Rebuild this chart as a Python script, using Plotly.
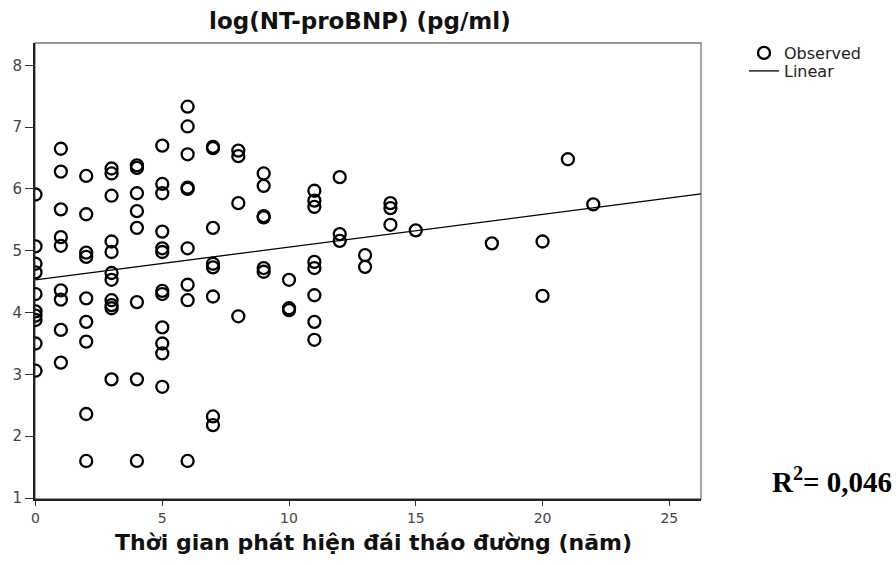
import plotly.graph_objects as go

# Observed data: years since diabetes detection (x) vs log(NT-proBNP) (y)
obs_x = (
    [0] * 10 + [1] * 9 + [2] * 9 + [3] * 11 + [4] * 8 + [5] * 12 + [6] * 9 + [7] * 8
    + [8] * 4 + [9] * 6 + [10] * 3 + [11] * 8 + [12] * 3 + [13] * 2 + [14] * 3
    + [15] + [18] + [20] * 2 + [21] + [22]
)
obs_y = [
    5.91, 5.07, 4.79, 4.65, 4.30, 4.02, 3.95, 3.88, 3.50, 3.06,          # 0
    6.65, 6.28, 5.67, 5.22, 5.08, 4.36, 4.21, 3.72, 3.19,                # 1
    6.21, 5.59, 4.97, 4.90, 4.23, 3.85, 3.53, 2.36, 1.60,                # 2
    6.33, 6.25, 5.89, 5.15, 4.98, 4.64, 4.53, 4.20, 4.12, 4.07, 2.92,    # 3
    6.38, 6.34, 5.93, 5.64, 5.37, 4.17, 2.92, 1.60,                      # 4
    6.70, 6.08, 5.93, 5.31, 5.04, 4.98, 4.35, 4.30, 3.76, 3.50, 3.34, 2.80,  # 5
    7.33, 7.01, 6.56, 6.02, 6.00, 5.04, 4.45, 4.20, 1.60,                # 6
    6.68, 6.66, 5.37, 4.79, 4.73, 4.26, 2.32, 2.18,                      # 7
    6.62, 6.53, 5.77, 3.94,                                              # 8
    6.25, 6.05, 5.56, 5.54, 4.72, 4.66,                                  # 9
    4.53, 4.07, 4.04,                                                    # 10
    5.97, 5.81, 5.71, 4.82, 4.72, 4.28, 3.85, 3.56,                      # 11
    6.19, 5.27, 5.16,                                                    # 12
    4.93, 4.74,                                                          # 13
    5.77, 5.69, 5.42,                                                    # 14
    5.33,                                                                # 15
    5.12,                                                                # 18
    5.15, 4.27,                                                          # 20
    6.48,                                                                # 21
    5.75,                                                                # 22
]

# Linear fit line
fit_x = [0, 26.25]
fit_y = [4.53, 5.92]

x_ticks = [0, 5, 10, 15, 20, 25]
y_ticks = [1, 2, 3, 4, 5, 6, 7, 8]

title_text = "log(NT-proBNP) (pg/ml)"
x_title = "Thời gian phát hiện đái tháo đường (năm)"
r2_text = "R<sup>2</sup>= 0,046"

fig = go.Figure()
fig.add_trace(go.Scatter(
    x=obs_x, y=obs_y, mode="markers", name="Observed", legend="legend",
    marker=dict(symbol="circle-open", size=12, color="black",
                line=dict(width=2.3, color="black")),
))
fig.add_trace(go.Scatter(
    x=fit_x, y=fit_y, mode="lines", name="Linear", legend="legend2",
    line=dict(color="black", width=1.3),
))

L, R, T, B = 35, 701, 43, 499
W, H = 896, 565
pw, ph = R - L, B - T

leg_common = dict(xanchor="left", yanchor="top",
                  font=dict(family="DejaVu Sans", size=16, color="#222"),
                  bgcolor="rgba(0,0,0,0)", itemwidth=30)

fig.update_layout(
    width=W, height=H,
    margin=dict(l=L, r=W - R, t=T, b=H - B, pad=0),
    paper_bgcolor="white", plot_bgcolor="white",
    showlegend=True,
    legend=dict(x=(744 - L) / pw, y=1 - (36 - T) / ph, **leg_common),
    legend2=dict(x=(744 - L) / pw, y=1 - (54 - T) / ph, **leg_common),
    font=dict(family="DejaVu Sans", color="#333"),
    shapes=[dict(type="rect", xref="paper", yref="paper", x0=0, x1=1, y0=0, y1=1,
                 line=dict(color="#777", width=1.3), layer="below")],
    annotations=[
        dict(text="<b>" + title_text + "</b>", xref="paper", yref="paper",
             x=(360 - L) / pw, y=1 + (T - 21) / ph, xanchor="center", yanchor="middle",
             showarrow=False, font=dict(family="DejaVu Sans", size=23, color="#111")),
        dict(text="<b>" + x_title + "</b>", xref="paper", yref="paper",
             x=(373 - L) / pw, y=-(542 - B) / ph, xanchor="center", yanchor="middle",
             showarrow=False, font=dict(family="DejaVu Sans", size=22, color="#111")),
        dict(text="<b>" + r2_text + "</b>", xref="paper", yref="paper",
             x=(894 - L) / pw, y=-(480 - B) / ph, xanchor="right", yanchor="middle",
             showarrow=False, font=dict(family="Liberation Serif", size=29, color="black")),
    ],
)

fig.update_xaxes(
    range=[-0.02, 26.25], tickvals=x_ticks, ticks="outside", ticklen=5, tickwidth=1.3,
    tickcolor="#333", showline=True, linecolor="#222", linewidth=2,
    showgrid=False, zeroline=False, tickfont=dict(family="DejaVu Sans", size=14, color="#444"),
)
fig.update_yaxes(
    range=[0.985, 8.36], tickvals=y_ticks, ticks="outside", ticklen=8, tickwidth=1.3,
    tickcolor="#333", showline=True, linecolor="#222", linewidth=2,
    showgrid=False, zeroline=False, tickfont=dict(family="DejaVu Sans", size=15, color="#444"),
)

fig.write_html("out.html")
